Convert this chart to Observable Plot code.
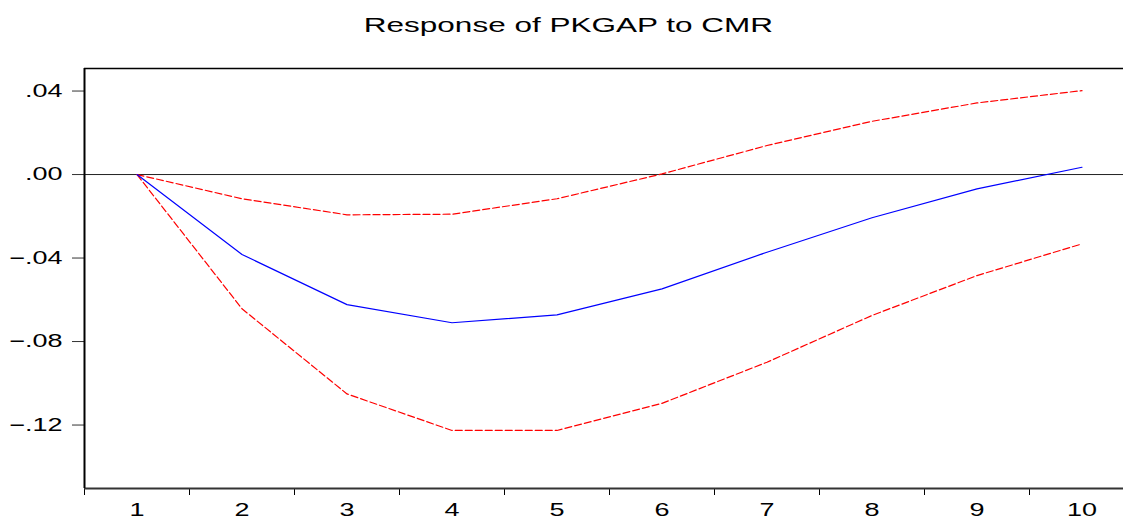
<!DOCTYPE html>
<html>
<head>
<meta charset="utf-8">
<script src="https://cdn.jsdelivr.net/npm/d3@7"></script>
<script src="https://cdn.jsdelivr.net/npm/@observablehq/plot@0.6"></script>
<style>
  html, body { margin: 0; padding: 0; background: #fff; }
  #title { width: 1123px; height: 48px; box-sizing: border-box; padding-top: 13px; padding-left: 13px;
           text-align: center; font: 21px Arial, "Liberation Sans", sans-serif; line-height: 24px; color: #000; }
  #title span { display: inline-block; transform: scaleX(1.5); transform-origin: 50% 50%; }
  #chart svg { display: block; }
</style>
</head>
<body>
<div id="title"><span>Response of PKGAP to CMR</span></div>
<div id="chart"></div>
<script>
const periods = [1, 2, 3, 4, 5, 6, 7, 8, 9, 10];
const response = [0, -0.0383, -0.0623, -0.0710, -0.0672, -0.0548, -0.0372, -0.0207, -0.0069, 0.0035];
const upperBand = [0, -0.0116, -0.0193, -0.0190, -0.0116, 0.0003, 0.0139, 0.0255, 0.0343, 0.0402];
const lowerBand = [0, -0.0643, -0.1051, -0.1226, -0.1226, -0.1096, -0.0899, -0.0675, -0.0484, -0.0332];
const yTicks = [-0.12, -0.08, -0.04, 0, 0.04];
const yDomain = [-0.1504, 0.0508];
const xDomain = [0.5, 10.5];
const boundaries = d3.range(xDomain[0], xDomain[1], 1);

const table = periods.map((p, i) => ({p, resp: response[i], up: upperBand[i], lo: lowerBand[i]}));
const fmt = d => d === 0 ? ".00" : d3.format(".2f")(d).replace("0.", ".");

const W = 1123, H = 471;
const chart = Plot.plot({
  width: W,
  height: H,
  marginTop: 20,
  marginBottom: 31,
  marginLeft: 84,
  marginRight: 0,
  style: {fontSize: "18px", fontFamily: "Arial, 'Liberation Sans', sans-serif", color: "#000", background: "#fff"},
  x: {domain: xDomain, range: [84, 1134], ticks: boundaries, tickSize: 7, tickFormat: () => "", label: null},
  y: {domain: yDomain, range: [440, 20], ticks: yTicks, tickSize: 12, tickPadding: 10, tickFormat: fmt, label: null},
  marks: [
    Plot.ruleY([yDomain[1]], {stroke: "#000", strokeWidth: 1.5}),
    Plot.ruleY([0], {stroke: "#222", strokeWidth: 1}),
    Plot.ruleY([yDomain[0]], {stroke: "#333", strokeWidth: 2}),
    Plot.ruleX([xDomain[0]], {stroke: "#000", strokeWidth: 2}),
    Plot.line(table, {x: "p", y: "up", stroke: "#ff0000", strokeWidth: 1.2, strokeDasharray: "7,3"}),
    Plot.line(table, {x: "p", y: "lo", stroke: "#ff0000", strokeWidth: 1.2, strokeDasharray: "7,3"}),
    Plot.line(table, {x: "p", y: "resp", stroke: "#0000ff", strokeWidth: 1.2}),
    Plot.text(periods, {x: d => d, y: () => yDomain[0], dy: 22, text: d => String(d), fontSize: 18, fill: "#000"})
  ]
});

document.getElementById("chart").appendChild(chart);

// Stretch text horizontally like the reference rendering, keeping each text's anchor fixed
const SX = 1.5;
Array.from(chart.querySelectorAll("text")).forEach(t => {
  if (!t.textContent) return;
  const parent = t.parentNode;
  const r = t.getBoundingClientRect();
  const anchor = getComputedStyle(t).textAnchor;
  const sx = anchor === "end" ? r.right : anchor === "middle" ? (r.left + r.right) / 2 : r.left;
  const pt = chart.createSVGPoint();
  pt.x = sx; pt.y = (r.top + r.bottom) / 2;
  const p = pt.matrixTransform(parent.getScreenCTM().inverse());
  const g = document.createElementNS("http://www.w3.org/2000/svg", "g");
  g.setAttribute("transform", `translate(${p.x},0) scale(${SX},1) translate(${-p.x},0)`);
  parent.insertBefore(g, t);
  g.appendChild(t);
});
chart.querySelectorAll("[aria-label='y-axis'] line, [aria-label='y-axis tick'] path").forEach(l => l.setAttribute("stroke", "#333"));
</script>
</body>
</html>
